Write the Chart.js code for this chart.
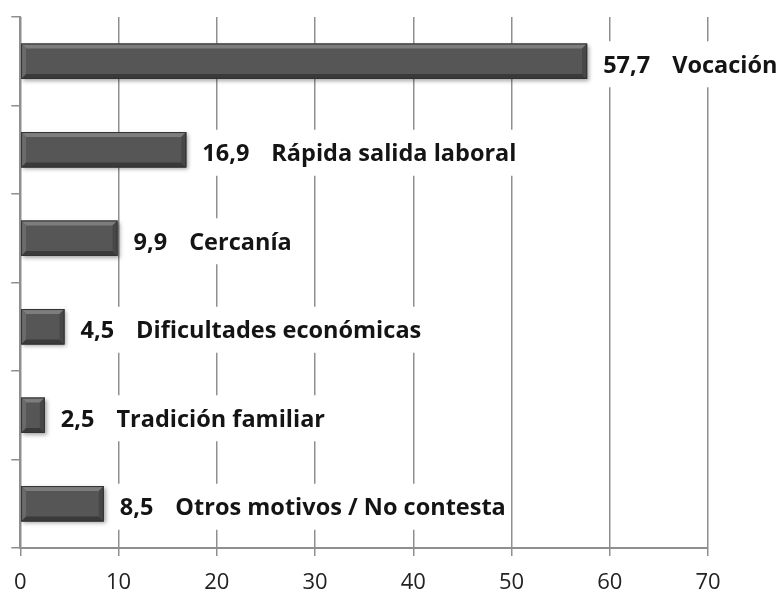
<!DOCTYPE html>
<html>
<head>
<meta charset="utf-8">
<script src="https://cdn.jsdelivr.net/npm/chart.js@4"></script>
<style>
  html, body { margin: 0; padding: 0; background: #ffffff; }
  #wrap { width: 784px; height: 592px; }
</style>
</head>
<body>
<div id="wrap"><canvas id="myChart" width="784" height="592"></canvas></div>
<script>
// data
var categories = ['Vocación', 'Rápida salida laboral', 'Cercanía', 'Dificultades económicas', 'Tradición familiar', 'Otros motivos / No contesta'];
var values = [57.7, 16.9, 9.9, 4.5, 2.5, 8.5];
var xTicks = [0, 10, 20, 30, 40, 50, 60, 70];

var labelFont = 'bold 23.5px "Open Sans"';

// soft shadow under the bars
var shadowPlugin = {
    id: 'barShadow',
    beforeDatasetsDraw: function (chart) {
        var ctx = chart.ctx;
        ctx.save();
        ctx.shadowColor = 'rgba(0,0,0,0.35)';
        ctx.shadowBlur = 4;
        ctx.shadowOffsetX = 2;
        ctx.shadowOffsetY = 2;
    },
    afterDatasetsDraw: function (chart) {
        chart.ctx.restore();
    }
};

// bevel + labels
var bevelPlugin = {
    id: 'bevelLabels',
    afterDatasetsDraw: function (chart) {
        var ctx = chart.ctx;
        var meta = chart.getDatasetMeta(0);
        meta.data.forEach(function (bar, i) {
            var x0 = bar.base, x1 = bar.x;
            var top = bar.y - bar.height / 2, bot = bar.y + bar.height / 2;
            var b = 5;
            ctx.save();
            ctx.fillStyle = '#7d7d7d';
            ctx.beginPath();
            ctx.moveTo(x0, top); ctx.lineTo(x1, top); ctx.lineTo(x1 - b, top + b); ctx.lineTo(x0 + b, top + b);
            ctx.fill();
            ctx.fillStyle = '#6a6a6a';
            ctx.beginPath();
            ctx.moveTo(x0, top); ctx.lineTo(x0 + b, top + b); ctx.lineTo(x0 + b, bot - b); ctx.lineTo(x0, bot);
            ctx.fill();
            ctx.fillStyle = '#3a3a3a';
            ctx.beginPath();
            ctx.moveTo(x0, bot); ctx.lineTo(x1, bot); ctx.lineTo(x1 - b, bot - b); ctx.lineTo(x0 + b, bot - b);
            ctx.fill();
            ctx.fillStyle = '#474747';
            ctx.beginPath();
            ctx.moveTo(x1, top); ctx.lineTo(x1, bot); ctx.lineTo(x1 - b, bot - b); ctx.lineTo(x1 - b, top + b);
            ctx.fill();
            ctx.strokeStyle = '#333333';
            ctx.lineWidth = 1;
            ctx.strokeRect(x0 + 0.5, top + 0.5, x1 - x0 - 1, bot - top - 1);

            // label with white box
            var val = values[i].toFixed(1).replace('.', ',');
            ctx.font = labelFont;
            var tx = x1 + 16;
            var gap = 22;
            var w1 = ctx.measureText(val).width;
            var w2 = ctx.measureText(categories[i]).width;
            ctx.fillStyle = '#ffffff';
            ctx.fillRect(x1 + 8, bar.y - 20, w1 + gap + w2 + 10, 46);
            ctx.fillStyle = '#141414';
            ctx.textBaseline = 'middle';
            ctx.fillText(val, tx, bar.y + 5);
            ctx.fillText(categories[i], tx + w1 + gap, bar.y + 5);
            ctx.restore();
        });
    }
};

var ctx = document.getElementById('myChart').getContext('2d');
var chart = new Chart(ctx, {
    type: 'bar',
    data: {
        labels: categories,
        datasets: [{
            data: values,
            backgroundColor: '#565656',
            borderWidth: 0,
            barPercentage: 0.4,
            categoryPercentage: 1
        }]
    },
    options: {
        indexAxis: 'y',
        responsive: false,
        animation: false,
        events: [],
        layout: { padding: { top: 17, right: 76, left: 0, bottom: 0 } },
        plugins: {
            legend: { display: false },
            tooltip: { enabled: false }
        },
        scales: {
            x: {
                min: 0,
                max: 70,
                afterBuildTicks: function (scale) {
                    scale.ticks = xTicks.map(function (v) { return { value: v }; });
                },
                afterFit: function (scale) { scale.height = 44; },
                grid: { color: '#8f8f8f', lineWidth: 1.5, tickLength: 8 },
                border: { color: '#8f8f8f', width: 2 },
                ticks: {
                    color: '#222222',
                    padding: 14,
                    font: { family: 'Open Sans', size: 22 }
                }
            },
            y: {
                afterFit: function (scale) { scale.width = 19; },
                grid: { drawOnChartArea: false, color: '#8f8f8f', lineWidth: 1.5, tickLength: 9, offset: true },
                border: { color: '#8f8f8f', width: 2 },
                ticks: { display: false }
            }
        }
    },
    plugins: [shadowPlugin, bevelPlugin]
});
</script>
</body>
</html>
